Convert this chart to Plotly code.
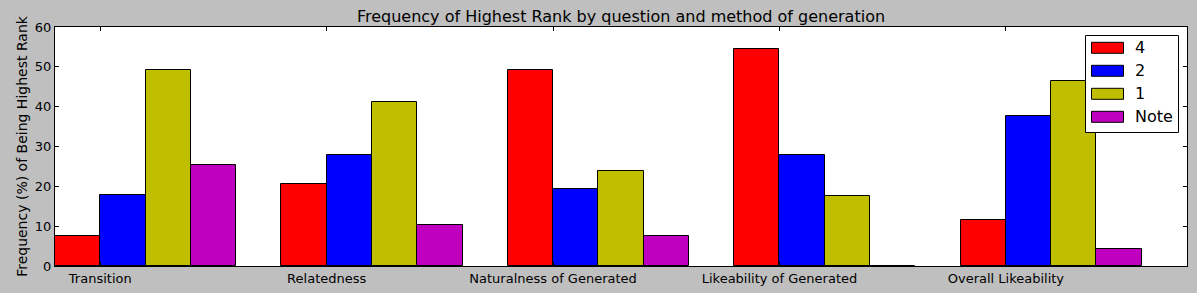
import plotly.graph_objects as go

categories = ["Transition", "Relatedness", "Naturalness of Generated",
              "Likeability of Generated", "Overall Likeability"]
series_names = ["4", "2", "1", "Note"]
vals_4 = [7.5, 20.5, 49.2, 54.4, 11.5]
vals_2 = [17.8, 27.8, 19.3, 27.8, 37.6]
vals_1 = [49.2, 41.1, 23.8, 17.5, 46.4]
vals_note = [25.3, 10.2, 7.5, 0.0, 4.3]
colors = ["#ff0000", "#0000ff", "#bfbf00", "#bf00bf"]

series = [vals_4, vals_2, vals_1, vals_note]
bw = 0.2
xs = list(range(len(categories)))

W, H = 1197, 293
L, R, T, B = 55, 10, 27, 27
pw, ph = W - L - R, H - T - B

fig = go.Figure()
for k, (name, vals, c) in enumerate(zip(series_names, series, colors)):
    fig.add_trace(go.Bar(
        x=xs, y=vals, name=name, width=bw, offset=k * bw,
        marker=dict(color=c, line=dict(color="black", width=1)),
        showlegend=False,
    ))

font = "DejaVu Sans, Bitstream Vera Sans, sans-serif"

def px_x(p):
    return (p - L) / pw

def px_y(p):
    return (H - B - p) / ph

shapes = []
annotations = []
# legend box
shapes.append(dict(type="rect", xref="paper", yref="paper",
                   x0=px_x(1085.5), x1=px_x(1178.5), y0=px_y(132.5), y1=px_y(35.5),
                   line=dict(color="black", width=1), fillcolor="white", layer="above"))
row_centers = [47.8, 70.8, 93.8, 116.8]
for name, c, yc in zip(series_names, colors, row_centers):
    shapes.append(dict(type="rect", xref="paper", yref="paper",
                       x0=px_x(1091.5), x1=px_x(1123.5),
                       y0=px_y(yc + 5.5), y1=px_y(yc - 5.5),
                       line=dict(color="black", width=1), fillcolor=c, layer="above"))
    annotations.append(dict(xref="paper", yref="paper", x=px_x(1133), y=px_y(yc),
                            text=name, showarrow=False, xanchor="left", yanchor="middle",
                            font=dict(family=font, size=16, color="black")))

fig.update_layout(
    width=W, height=H,
    margin=dict(l=L, r=R, t=T, b=B, autoexpand=False),
    paper_bgcolor="#bfbfbf", plot_bgcolor="white",
    barmode="overlay",
    bargap=0,
    title=dict(text="Frequency of Highest Rank by question and method of generation",
               x=(L + pw / 2) / W, xanchor="center", y=1 - 16 / H, yanchor="middle",
               font=dict(family=font, size=16, color="black")),
    font=dict(family=font, size=13, color="black"),
    xaxis=dict(range=[0, 5], tickvals=[i + bw for i in xs], ticktext=categories,
               ticks="inside", ticklen=4, tickcolor="black", mirror="ticks",
               showline=True, linecolor="black", linewidth=1, showgrid=False,
               zeroline=False, tickfont=dict(size=13), automargin=False),
    yaxis=dict(range=[0, 60], dtick=10, ticks="inside", ticklen=4, tickcolor="black",
               mirror="ticks", showline=True, linecolor="black", linewidth=1,
               showgrid=False, zeroline=False, tickfont=dict(size=13), automargin=False,
               title=dict(text="Frequency (%) of Being Highest Rank",
                          font=dict(size=14), standoff=3)),
    shapes=shapes,
    annotations=annotations,
)

fig.write_html("out.html", config={"displayModeBar": False},
               post_script="document.body.style.margin='0px';document.body.style.overflow='hidden';")
